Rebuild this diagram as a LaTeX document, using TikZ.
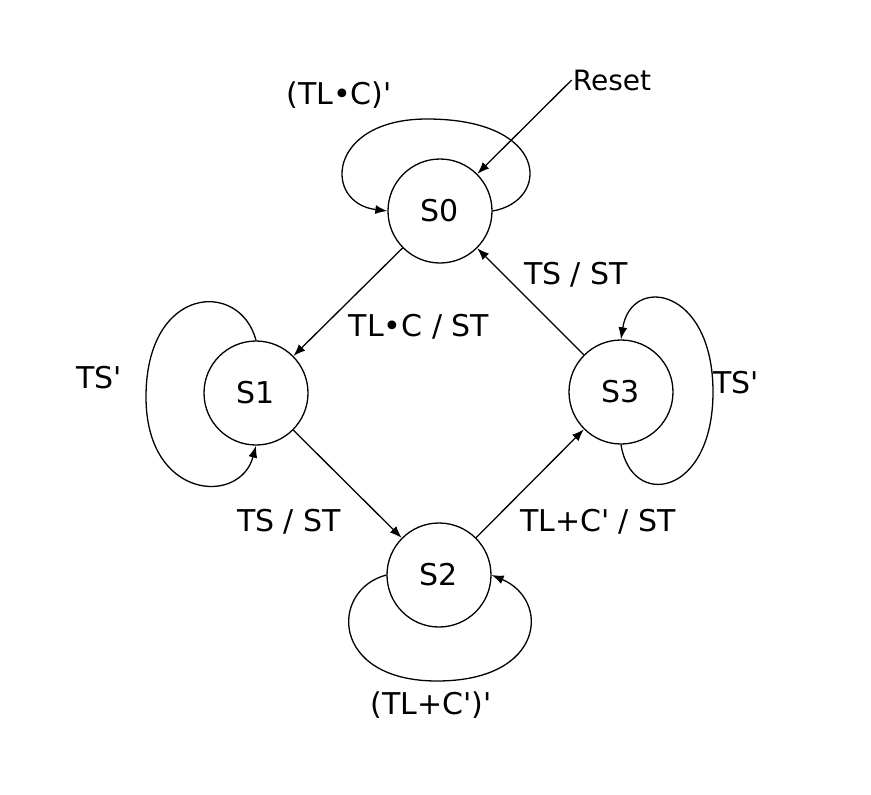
\documentclass[tikz,border=0pt]{standalone}
\usepackage{fontspec}
\newfontfamily\lblfont{DejaVu Sans}
\usetikzlibrary{arrows.meta}
\begin{document}
\begin{tikzpicture}[x=1pt,y=1pt,
  state/.style={circle,draw,line width=1.3pt,minimum size=104pt,inner sep=0pt,font=\lblfont\fontsize{30}{36}\selectfont},
  lbl/.style={inner sep=1pt,font=\lblfont\fontsize{30}{36}\selectfont},
  edge/.style={line width=1.3pt,-{Latex[length=12pt,width=9pt]}},
  every path/.style={line join=round}]
\useasboundingbox (0,0) rectangle (871,-795);
\fill[white] (0,0) rectangle (871,-795);
% states
\node[state] (S0) at (440,-211) {S0};
\node[state] (S1) at (256,-393) {S1};
\node[state] (S2) at (439,-575) {S2};
\node[state] (S3) at (621,-392) {S3};
% labels
\node[lbl,font=\lblfont\fontsize{28}{34}\selectfont] (reset) at (612,-80) {Reset};
\node[lbl] (l00) at (339,-95) {(TL•C)'};
\node[lbl] (l01) at (419,-327) {TL•C / ST};
\node[lbl] (l30) at (576,-275) {TS / ST};
\node[lbl] (l11) at (99,-378) {TS'};
\node[lbl] (l33) at (736,-383) {TS'};
\node[lbl] (l12) at (289,-522) {TS / ST};
\node[lbl] (l23) at (598,-522) {TL+C' / ST};
\node[lbl] (l22) at (431,-705) {(TL+C')'};
% reset
\draw[edge] (reset.west) -- (S0);
% transitions
\draw[edge] (S0) -- (S1);
\draw[edge] (S1) -- (S2);
\draw[edge] (S2) -- (S3);
\draw[edge] (S3) -- (S0);
% self loops
\coordinate (t0) at (427,-119);
\draw[edge] (S0.east) .. controls +(58,10) and +(123,0) .. (t0)
  .. controls +(-100,0) and +(-65,8) .. (S0.west);
\coordinate (t1) at (146,-397);
\draw[edge] (S1.north) .. controls +(-16,61) and +(0,112) .. (t1)
  .. controls +(0,-103) and +(-16,-60) .. (S1.south);
\coordinate (t2) at (437,-681);
\draw[edge] (S2.west) .. controls +(-57,-15) and +(-107,0) .. (t2)
  .. controls +(108,0) and +(59,-25) .. (S2.east);
\coordinate (t3) at (713,-392);
\draw[edge] (S3.south) .. controls +(10,-65) and +(0,-105) .. (t3)
  .. controls +(0,105) and +(10,65) .. (S3.north);
\end{tikzpicture}
\end{document}
